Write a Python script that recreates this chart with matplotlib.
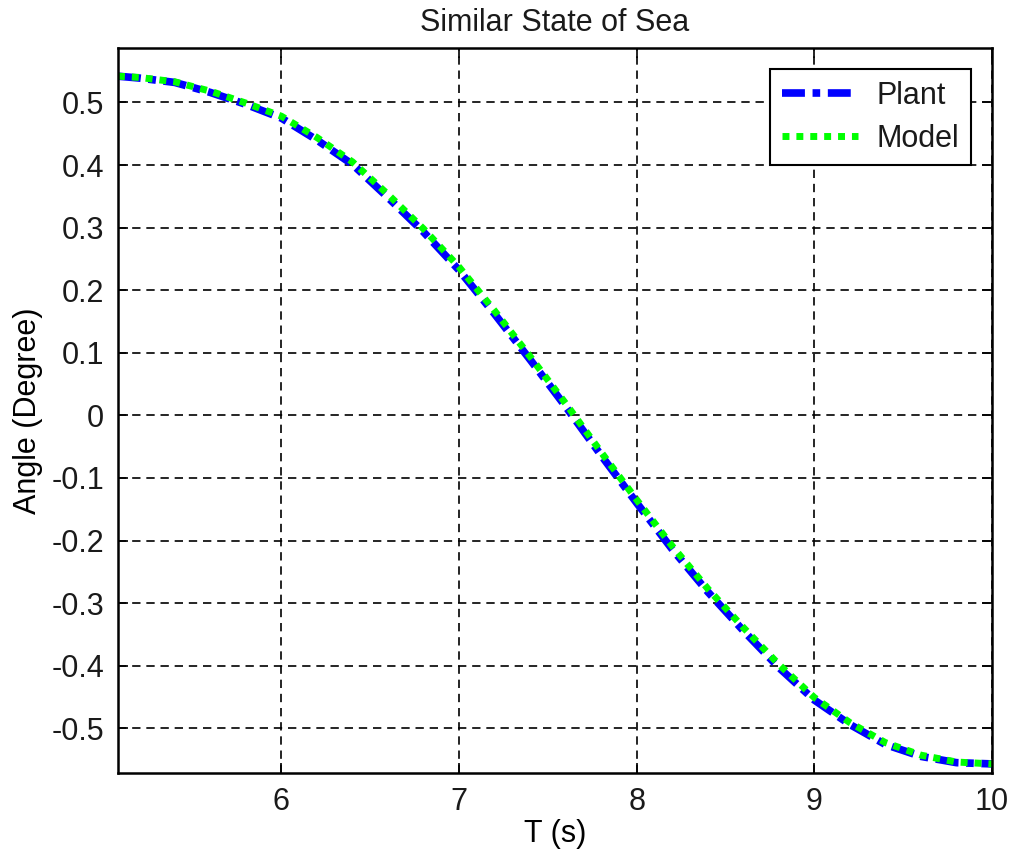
import matplotlib
matplotlib.use('Agg')
import matplotlib.pyplot as plt

plt.rcParams['font.family'] = ['Liberation Sans', 'DejaVu Sans']
plt.rcParams['text.color'] = '#1a1a1a'

# time (s) and pitch angle (degree)
t = [5.08, 5.2, 5.4, 5.6, 5.8, 6.0, 6.2, 6.4, 6.6, 6.8, 7.0, 7.2, 7.4,
     7.6, 7.8, 8.0, 8.2, 8.4, 8.6, 8.8, 9.0, 9.2, 9.4, 9.6, 9.8, 10.0]
plant = [0.542, 0.539, 0.532, 0.516, 0.497, 0.475, 0.440, 0.401, 0.348,
         0.293, 0.232, 0.162, 0.089, 0.014, -0.064, -0.140, -0.214, -0.282,
         -0.344, -0.403, -0.455, -0.494, -0.526, -0.545, -0.555, -0.557]
model = [0.542, 0.540, 0.533, 0.518, 0.499, 0.478, 0.444, 0.405, 0.353,
         0.298, 0.237, 0.167, 0.094, 0.019, -0.059, -0.135, -0.209, -0.277,
         -0.339, -0.398, -0.451, -0.491, -0.523, -0.543, -0.554, -0.557]

xticks = [6, 7, 8, 9, 10]
yticks = [0.5, 0.4, 0.3, 0.2, 0.1, 0, -0.1, -0.2, -0.3, -0.4, -0.5]
yticklabels = ['0.5', '0.4', '0.3', '0.2', '0.1', '0',
               '-0.1', '-0.2', '-0.3', '-0.4', '-0.5']

fig = plt.figure(figsize=(10.16, 8.59), dpi=100)
ax = fig.add_axes([0.1161, 0.1005, 0.8603, 0.8436])

ax.plot(t, plant, color='#0000ff', lw=5.5, dashes=(3, 1, 1, 1),
        dash_capstyle='butt', label='Plant')
ax.plot(t, model, color='#00ff00', lw=5.0, dashes=(1, 1),
        dash_capstyle='butt', label='Model')

ax.set_xlim(5.08, 10.0)
ax.set_ylim(-0.571, 0.587)
ax.set_xticks(xticks)
ax.set_xticklabels([str(v) for v in xticks])
ax.set_yticks(yticks)
ax.set_yticklabels(yticklabels)

ax.grid(True, color='black', linestyle=(0, (5, 3.5)), linewidth=1.2)
ax.tick_params(direction='in', length=7, width=1.2, top=True, right=True,
               labelsize=22, pad=10, colors='black', labelcolor='#1a1a1a')
for s in ax.spines.values():
    s.set_linewidth(1.8)

ax.set_title('Similar State of Sea', fontsize=22, pad=12)
ax.set_xlabel('T (s)', fontsize=22, labelpad=2)
ax.set_ylabel('Angle (Degree)', fontsize=22, labelpad=6)

leg = ax.legend(loc='upper right', fontsize=22, fancybox=False,
                framealpha=1, edgecolor='black', handlelength=2.5,
                borderaxespad=0.7, handletextpad=0.6, labelspacing=0.42,
                borderpad=0.38)
leg.get_frame().set_linewidth(1.5)

fig.savefig('out.png', dpi=100)
